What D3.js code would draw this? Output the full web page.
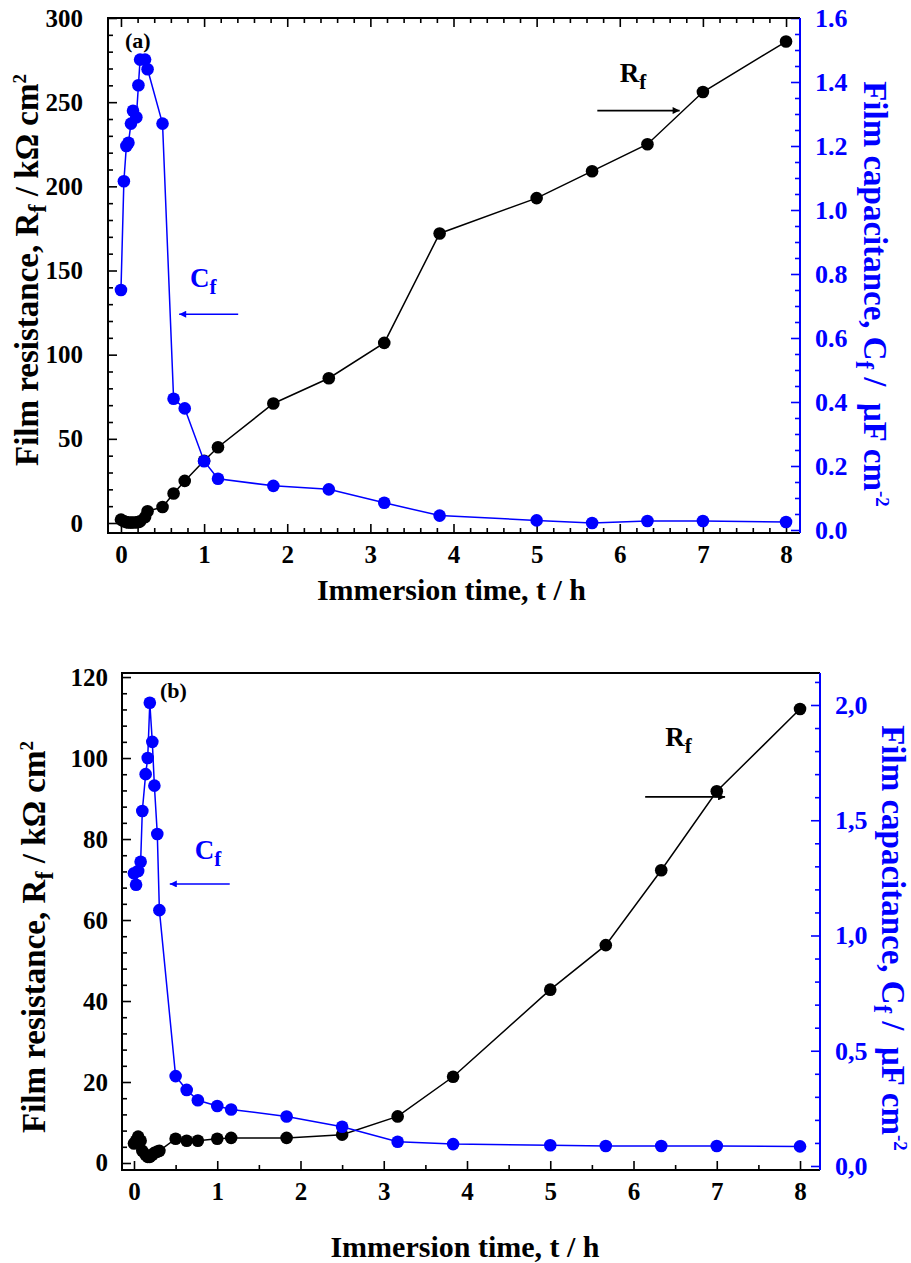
<!DOCTYPE html>
<html>
<head>
<meta charset="utf-8">
<script src="https://cdn.jsdelivr.net/npm/d3@7"></script>
<style>
  body { margin: 0; background: #fff; }
  svg { display: block; font-family: "Liberation Serif", "Times New Roman", serif; font-weight: bold; }
</style>
</head>
<body>
<svg id="chart" width="911" height="1263"></svg>
<script>
// panel (a)
var timeA = [0, 0.035, 0.065, 0.09, 0.12, 0.145, 0.185, 0.21, 0.23, 0.29, 0.32, 0.5, 0.633, 0.767, 1, 1.167, 1.833, 2.5, 3.167, 3.833, 5, 5.667, 6.333, 7, 8];
var rfA = [2.0, 1.0, 0.5, 0.3, 0.3, 0.3, 0.4, 0.6, 1.0, 3.5, 7.0, 9.5, 17.5, 25, 37, 45, 71, 86, 107, 172, 193, 209, 225, 256, 286];
var cfA = [0.75, 1.09, 1.20, 1.21, 1.27, 1.31, 1.29, 1.39, 1.47, 1.47, 1.44, 1.27, 0.41, 0.38, 0.215, 0.16, 0.138, 0.127, 0.085, 0.045, 0.03, 0.022, 0.028, 0.028, 0.025];

// panel (b)
var timeB = [0, 0.025, 0.05, 0.08, 0.1, 0.14, 0.165, 0.19, 0.22, 0.245, 0.28, 0.305, 0.5, 0.633, 0.767, 1, 1.167, 1.833, 2.5, 3.167, 3.833, 5, 5.667, 6.333, 7, 8];
var rfB = [4.8, 5.5, 6.5, 5.5, 3.0, 2.0, 1.5, 1.5, 2.0, 2.5, 2.8, 3.0, 6.0, 5.5, 5.5, 6.0, 6.2, 6.2, 7.0, 11.5, 21.3, 42.8, 53.8, 72.3, 91.8, 112.1];
var cfB = [1.27, 1.22, 1.28, 1.32, 1.54, 1.70, 1.77, 2.01, 1.84, 1.65, 1.44, 1.11, 0.39, 0.33, 0.285, 0.26, 0.245, 0.215, 0.17, 0.105, 0.095, 0.09, 0.087, 0.087, 0.087, 0.085];

var xTicks = [0, 1, 2, 3, 4, 5, 6, 7, 8];
var leftTicksA = [0, 50, 100, 150, 200, 250, 300];
var rightTicksA = [0, 0.2, 0.4, 0.6, 0.8, 1.0, 1.2, 1.4, 1.6];
var leftTicksB = [0, 20, 40, 60, 80, 100, 120];
var rightTicksB = [0, 0.5, 1.0, 1.5, 2.0];

var svg = d3.select("#chart");
var BLUE = "#0000ff";
var FONT = "'Liberation Serif', 'Times New Roman', serif";

var panels = [
  {
    label: "(a)", t: timeA, rf: rfA, cf: cfA,
    left: 108, right: 800, top: 18, bottom: 533,
    xDomain: [-0.156, 8.168], yDomain: [-5.94, 300], cDomain: [-0.0094, 1.6],
    xMinor: 0.2, yMinor: 10, cMinor: 0.05, topTicks: true, yPad: 25,
    yTicks: leftTicksA, cTicks: rightTicksA, cFmt: d3.format(".1f"),
    labelPos: [125, 48], xTitleY: 600, yTitle: [38, 270], cTitle: [864, 294],
    rfText: [6.0, 262], rfArrow: [5.73, 6.72, 245],
    cfText: [0.83, 140], cfArrow: [1.41, 0.7, 124]
  },
  {
    label: "(b)", t: timeB, rf: rfB, cf: cfB,
    left: 122, right: 820, top: 673, bottom: 1170,
    xDomain: [-0.144, 8.24], yDomain: [-1.73, 121], cDomain: [-0.0174, 2.1388],
    xMinor: 0.5, yMinor: 4, cMinor: 0.1, topTicks: false, yPad: 14,
    yTicks: leftTicksB, cTicks: rightTicksB, cFmt: function(d) { return d3.format(".1f")(d).replace(".", ","); },
    labelPos: [160, 698], xTitleY: 1257, yTitle: [45, 937], cTitle: [882, 938],
    rfText: [6.38, 103], rfArrow: [6.14, 7.1, 90.4],
    cfText: [0.73, 75], cfArrow: [1.15, 0.43, 68.9]
  }
];

svg.append("defs").selectAll("marker")
  .data([["arrowBlack", "#000"], ["arrowBlue", BLUE]])
  .enter().append("marker")
  .attr("id", function(d) { return d[0]; })
  .attr("viewBox", "0 0 10 10")
  .attr("refX", 10).attr("refY", 5)
  .attr("markerWidth", 10).attr("markerHeight", 7)
  .attr("markerUnits", "userSpaceOnUse")
  .attr("orient", "auto")
  .append("path")
  .attr("d", "M0,0 L10,5 L0,10 Z")
  .attr("fill", function(d) { return d[1]; });

function range(a, b, step) {
  var out = [];
  for (var v = a; v <= b + 1e-9; v += step) out.push(+v.toFixed(4));
  return out;
}

panels.forEach(function(p) {
  var x = d3.scaleLinear().domain(p.xDomain).range([p.left, p.right]);
  var y = d3.scaleLinear().domain(p.yDomain).range([p.bottom, p.top]);
  var c = d3.scaleLinear().domain(p.cDomain).range([p.bottom, p.top]);
  var g = svg.append("g");

  var xMinor = range(0, 8.2, p.xMinor).filter(function(v) { return v % 1 !== 0 && v <= p.xDomain[1]; });
  var yMinor = range(0, p.yDomain[1], p.yMinor);
  var cMinor = range(0, p.cDomain[1], p.cMinor);

  // bottom axis, ticks inward
  g.append("g").attr("transform", "translate(0," + p.bottom + ")")
    .call(d3.axisBottom(x).tickValues(xTicks).tickSize(-9).tickPadding(12).tickFormat(d3.format("d")));
  g.append("g").attr("transform", "translate(0," + p.bottom + ")")
    .call(d3.axisBottom(x).tickValues(xMinor).tickSize(-5).tickFormat(""));
  if (p.topTicks) {
    g.append("g").attr("transform", "translate(0," + p.top + ")")
      .call(d3.axisTop(x).tickValues(xTicks).tickSize(-9).tickFormat(""));
    g.append("g").attr("transform", "translate(0," + p.top + ")")
      .call(d3.axisTop(x).tickValues(xMinor).tickSize(-5).tickFormat(""));
  }

  g.append("g").attr("transform", "translate(" + p.left + ",0)")
    .call(d3.axisLeft(y).tickValues(p.yTicks).tickSize(-9).tickPadding(p.yPad));
  g.append("g").attr("transform", "translate(" + p.left + ",0)")
    .call(d3.axisLeft(y).tickValues(yMinor.filter(function(v) { return p.yTicks.indexOf(v) < 0; })).tickSize(-5).tickFormat(""));

  g.append("g").attr("class", "blue").attr("transform", "translate(" + p.right + ",0)")
    .call(d3.axisRight(c).tickValues(p.cTicks).tickSize(-9).tickPadding(15).tickFormat(p.cFmt));
  g.append("g").attr("class", "blue").attr("transform", "translate(" + p.right + ",0)")
    .call(d3.axisRight(c).tickValues(cMinor.filter(function(v) {
      return !p.cTicks.some(function(t) { return Math.abs(t - v) < 1e-6; });
    })).tickSize(-5).tickFormat(""));

  g.selectAll(".domain").remove();
  g.selectAll("g").attr("font-family", FONT);
  g.selectAll(".tick line").attr("stroke", "#000").attr("stroke-width", 1.6);
  g.selectAll(".tick text").attr("fill", "#000").style("font-size", "25px").style("font-family", FONT).style("font-weight", "bold");
  g.selectAll(".blue .tick line").attr("stroke", BLUE);
  g.selectAll(".blue .tick text").attr("fill", BLUE).style("font-size", "26px");

  // frame
  g.append("path")
    .attr("d", "M" + p.right + "," + p.top + " H" + p.left + " V" + p.bottom + " H" + p.right)
    .attr("fill", "none").attr("stroke", "#000").attr("stroke-width", 2);
  g.append("line")
    .attr("x1", p.right).attr("x2", p.right).attr("y1", p.top).attr("y2", p.bottom)
    .attr("stroke", BLUE).attr("stroke-width", 2);

  var rfData = p.t.map(function(t, i) { return [t, p.rf[i]]; });
  var cfData = p.t.map(function(t, i) { return [t, p.cf[i]]; });

  var lineRf = d3.line().x(function(d) { return x(d[0]); }).y(function(d) { return y(d[1]); });
  var lineCf = d3.line().x(function(d) { return x(d[0]); }).y(function(d) { return c(d[1]); });

  g.append("path").datum(rfData).attr("d", lineRf)
    .attr("fill", "none").attr("stroke", "#000").attr("stroke-width", 1.5);
  g.selectAll(".rf").data(rfData).enter().append("circle")
    .attr("class", "rf").attr("r", 6.3)
    .attr("cx", function(d) { return x(d[0]); })
    .attr("cy", function(d) { return y(d[1]); })
    .attr("fill", "#000");

  g.append("path").datum(cfData).attr("d", lineCf)
    .attr("fill", "none").attr("stroke", BLUE).attr("stroke-width", 1.5);
  g.selectAll(".cf").data(cfData).enter().append("circle")
    .attr("class", "cf").attr("r", 6.3)
    .attr("cx", function(d) { return x(d[0]); })
    .attr("cy", function(d) { return c(d[1]); })
    .attr("fill", BLUE);

  // panel letter
  g.append("text").attr("x", p.labelPos[0]).attr("y", p.labelPos[1])
    .style("font-size", "22px").text(p.label);

  // annotations
  var rt = g.append("text").attr("x", x(p.rfText[0])).attr("y", y(p.rfText[1]))
    .style("font-size", "27px").attr("fill", "#000");
  rt.append("tspan").text("R");
  rt.append("tspan").attr("dy", 7).style("font-size", "21px").text("f");
  g.append("line")
    .attr("x1", x(p.rfArrow[0])).attr("x2", x(p.rfArrow[1]))
    .attr("y1", y(p.rfArrow[2])).attr("y2", y(p.rfArrow[2]))
    .attr("stroke", "#000").attr("stroke-width", 1.6)
    .attr("marker-end", "url(#arrowBlack)");

  var ct = g.append("text").attr("x", x(p.cfText[0])).attr("y", y(p.cfText[1]))
    .style("font-size", "27px").attr("fill", BLUE);
  ct.append("tspan").text("C");
  ct.append("tspan").attr("dy", 7).style("font-size", "21px").text("f");
  g.append("line")
    .attr("x1", x(p.cfArrow[0])).attr("x2", x(p.cfArrow[1]))
    .attr("y1", y(p.cfArrow[2])).attr("y2", y(p.cfArrow[2]))
    .attr("stroke", BLUE).attr("stroke-width", 1.6)
    .attr("marker-end", "url(#arrowBlue)");

  // axis titles
  g.append("text")
    .attr("x", (x(0) + x(8)) / 2 - 2).attr("y", p.xTitleY)
    .attr("text-anchor", "middle").style("font-size", "30px")
    .text("Immersion time, t / h");

  var yt = g.append("text")
    .attr("transform", "translate(" + p.yTitle[0] + "," + p.yTitle[1] + ") rotate(-90)")
    .attr("text-anchor", "middle").style("font-size", "33px");
  yt.append("tspan").text("Film resistance, R");
  yt.append("tspan").attr("dy", 8).style("font-size", "25px").text("f");
  yt.append("tspan").attr("dy", -8).text(" / k\u03A9 cm");
  yt.append("tspan").attr("dy", -12).style("font-size", "19px").text("2");

  var ctt = g.append("text")
    .attr("transform", "translate(" + p.cTitle[0] + "," + p.cTitle[1] + ") rotate(90)")
    .attr("text-anchor", "middle").style("font-size", "33px").attr("fill", BLUE)
    .attr("xml:space", "preserve");
  ctt.append("tspan").text("Film capacitance, C");
  ctt.append("tspan").attr("dy", 8).style("font-size", "25px").text("f");
  ctt.append("tspan").attr("dy", -8).text(" /  \u03BCF cm");
  ctt.append("tspan").attr("dy", -12).style("font-size", "19px").text("-2");
});
</script>
</body>
</html>
